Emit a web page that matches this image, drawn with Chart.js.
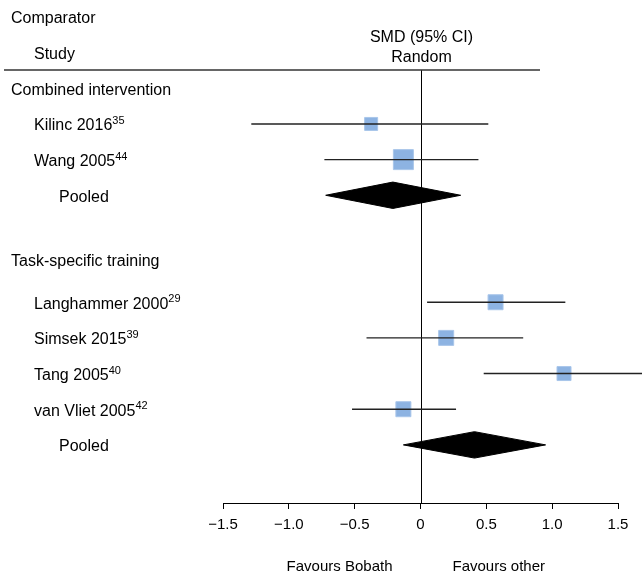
<!DOCTYPE html>
<html>
<head>
<meta charset="utf-8">
<script src="https://cdn.jsdelivr.net/npm/chart.js@4/dist/chart.umd.min.js"></script>
<style>
  html, body { margin: 0; padding: 0; background: #fff; }
  #wrap { width: 642px; height: 573px; }
</style>
</head>
<body>
<div id="wrap"><canvas id="forest" width="642" height="573"></canvas></div>
<script>
// study level data (SMD, 95% CI)
const studyNames = ["Kilinc 2016", "Wang 2005", "Langhammer 2000", "Simsek 2015", "Tang 2005", "van Vliet 2005"];
const studyRefs = ["35", "44", "29", "39", "40", "42"];
const studyRows = [1, 2, 6, 7, 8, 9];
const studySmd = [-0.375, -0.13, 0.57, 0.195, 1.09, -0.13];
const studyLow = [-1.285, -0.73, 0.05, -0.41, 0.48, -0.52];
const studyHigh = [0.515, 0.44, 1.10, 0.78, 1.75, 0.27];
const studyWeight = [13, 20, 15, 15, 14, 15]; // square side, px

// pooled estimates per comparator
const groupNames = ["Combined intervention", "Task-specific training"];
const groupRows = [0, 4.8];
const pooledRows = [3, 10];
const pooledSmd = [-0.21, 0.41];
const pooledLow = [-0.72, -0.13];
const pooledHigh = [0.305, 0.95];

const xTicks = [-1.5, -1.0, -0.5, 0, 0.5, 1.0, 1.5];

const FONT = "'Liberation Sans', Arial, sans-serif";
const diamondHalf = 0.37; // in row units
const textNudge = 2; // canvas 'middle' sits a bit high

function fmtTick(v) {
  if (v === 0) return "0";
  return (v < 0 ? "\u2212" : "") + Math.abs(v).toFixed(1);
}

const datasets = [];

// CI whiskers
studyRows.forEach((row, i) => {
  datasets.push({
    type: "line",
    data: [{ x: studyLow[i], y: row }, { x: studyHigh[i], y: row }],
    borderColor: "#222",
    borderWidth: 1.4,
    pointRadius: 0,
    fill: false,
    clip: false
  });
});

// pooled diamonds
pooledRows.forEach((row, i) => {
  datasets.push({
    type: "line",
    data: [
      { x: pooledLow[i], y: row },
      { x: pooledSmd[i], y: row - diamondHalf },
      { x: pooledHigh[i], y: row },
      { x: pooledSmd[i], y: row + diamondHalf },
      { x: pooledLow[i], y: row }
    ],
    borderColor: "#000",
    backgroundColor: "#000",
    borderWidth: 1,
    pointRadius: 0,
    tension: 0,
    fill: "shape"
  });
});

// study squares
datasets.push({
  type: "scatter",
  data: studyRows.map((row, i) => ({ x: studySmd[i], y: row })),
  pointStyle: "rect",
  pointRadius: studyWeight.map(s => s / 2 / Math.SQRT1_2),
  backgroundColor: "#8db3e2",
  borderColor: "#a9c6ea",
  borderWidth: 1,
  clip: false
});

const textPlugin = {
  id: "forestText",
  beforeDatasetsDraw(chart) {
    const c = chart.ctx;
    const xs = chart.scales.x;
    const area = chart.chartArea;
    c.save();
    // zero line
    const x0 = Math.round(xs.getPixelForValue(0)) + 0.5;
    c.strokeStyle = "#000";
    c.lineWidth = 1;
    c.beginPath();
    c.moveTo(x0, area.top);
    c.lineTo(x0, area.bottom);
    c.stroke();
    // header rule
    c.strokeStyle = "#333";
    c.lineWidth = 1.5;
    c.beginPath();
    c.moveTo(4, 70);
    c.lineTo(540, 70);
    c.stroke();
    c.restore();
  },
  afterDraw(chart) {
    const c = chart.ctx;
    const ys = chart.scales.y;
    const xs = chart.scales.x;
    const n = textNudge;
    c.save();
    c.fillStyle = "#000";
    c.textBaseline = "middle";
    c.font = "16px " + FONT;

    // headers
    c.textAlign = "left";
    c.fillText("Comparator", 11, 17 + n);
    c.fillText("Study", 34, 53 + n);
    c.textAlign = "center";
    const x0 = xs.getPixelForValue(0);
    c.fillText("SMD (95% CI)", x0 + 1, 36 + n);
    c.fillText("Random", x0 + 1, 56 + n);

    // groups
    c.textAlign = "left";
    groupNames.forEach((g, i) => {
      c.fillText(g, 11, ys.getPixelForValue(groupRows[i]) + n);
    });

    // studies with superscript refs
    studyNames.forEach((s, i) => {
      const y = ys.getPixelForValue(studyRows[i]) + n;
      c.font = "16px " + FONT;
      c.fillText(s, 34, y);
      const w = c.measureText(s).width;
      c.font = "11px " + FONT;
      c.fillText(studyRefs[i], 34 + w, y - 5);
    });

    c.font = "16px " + FONT;
    pooledRows.forEach(r => {
      c.fillText("Pooled", 59, ys.getPixelForValue(r) + n);
    });

    // favours labels
    c.font = "15px " + FONT;
    c.textAlign = "right";
    c.fillText("Favours Bobath", x0 - 28, 565 + n);
    c.textAlign = "left";
    c.fillText("Favours other", x0 + 32, 565 + n);
    c.restore();
  }
};

new Chart(document.getElementById("forest"), {
  type: "line",
  data: { datasets },
  options: {
    responsive: false,
    animation: false,
    layout: { padding: { top: 70, left: 223, right: 24, bottom: 0 } },
    plugins: {
      legend: { display: false },
      tooltip: { enabled: false }
    },
    scales: {
      x: {
        type: "linear",
        min: -1.5,
        max: 1.5,
        afterBuildTicks: scale => { scale.ticks = xTicks.map(v => ({ value: v })); },
        afterFit: scale => { scale.height = 70; },
        grid: { display: true, drawOnChartArea: false, drawTicks: true, tickLength: 6, color: "#000", lineWidth: 1 },
        border: { display: true, color: "#000", width: 1 },
        ticks: {
          padding: 7,
          color: "#000",
          font: { family: FONT, size: 15 },
          maxRotation: 0,
          callback: v => fmtTick(v)
        }
      },
      y: {
        type: "linear",
        display: false,
        reverse: true,
        min: -0.513,
        max: 11.63
      }
    }
  },
  plugins: [textPlugin]
});
</script>
</body>
</html>
